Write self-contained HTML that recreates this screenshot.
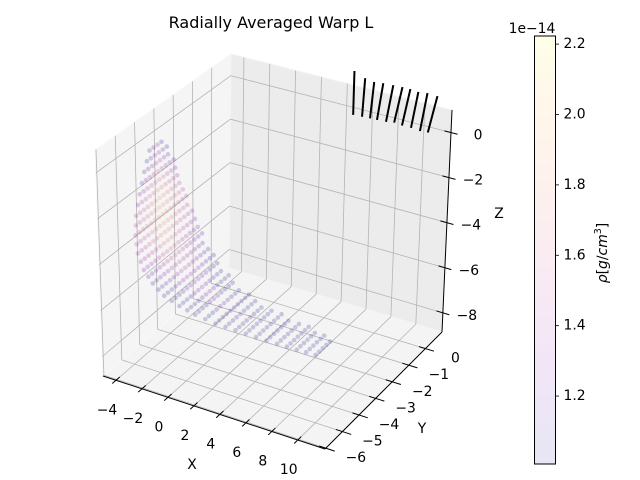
<!DOCTYPE html>
<html><head><meta charset="utf-8">
<style>
html,body{margin:0;padding:0;background:#fff;}
svg{display:block;font-family:"DejaVu Sans","Liberation Sans",sans-serif;}
</style></head>
<body>
<svg id="chart" width="640" height="480" viewBox="0 0 640 480" xmlns="http://www.w3.org/2000/svg">
  <defs>
    <linearGradient id="cbgrad" x1="0" y1="1" x2="0" y2="0"></linearGradient>
  </defs>
  <text x="271" y="28" font-size="16" text-anchor="middle" fill="#000">Radially Averaged Warp L</text>
  <g id="axes3d"></g>
  <g id="colorbar"></g>
</svg>
<script>
// ---- data ----
var xTicks = [-4, -2, 0, 2, 4, 6, 8, 10];
var yTicks = [-6, -5, -4, -3, -2, -1, 0];
var zTicks = [-8, -6, -4, -2, 0];
var cbTicks = [1.2, 1.4, 1.6, 1.8, 2.0, 2.2];
// scatter band rows (data coords)
var bandX = [-1.9, -1.9, -1.85, -1.8, -1.67, -1.4, -0.98, -0.4, 0.37, 1.3, 2.27, 3.6, 4.92, 6.4, 7.94, 9.3, 10.6];
var bandZ = [1.1, 0.35, -0.43, -1.2, -1.92, -2.6, -3.24, -3.75, -4.18, -4.55, -4.85, -5.1, -5.25, -5.32, -5.37, -5.45, -5.52];
var bandY = [-5, -5, -5, -5, -5, -5, -5, -5, -5, -5, -5, -5, -5, -5, -5, -5, -5];
var bandHalfWidth = [0.4, 0.7, 1.0, 1.25, 1.4, 1.5, 1.5, 1.45, 1.4, 1.25, 1.1, 0.95, 0.8, 0.75, 0.7, 0.6, 0.5];
var bandDensity = [1.3, 1.5, 1.7, 1.85, 1.9, 1.8, 1.65, 1.5, 1.4, 1.3, 1.25, 1.2, 1.15, 1.12, 1.1, 1.08, 1.05];
// quiver arrows (tail x,y,z and vector dx,dy,dz)
var quivX = [4.52, 5.36, 6.06, 6.76, 7.53, 8.24, 8.85, 9.47, 10.17, 10.94];
var quivY = [1.0, 1.0, 1.0, 1.0, 1.0, 1.0, 1.0, 1.0, 1.0, 1.0];
var quivZ = [1.64, 1.44, 1.37, 1.42, 1.44, 1.46, 1.46, 1.42, 1.47, 1.45];
var quivDX = [0, -0.15, -0.23, -0.39, -0.46, -0.54, -0.54, -0.46, -0.46, -0.62];
var quivDY = [0, 0, 0, 0, 0, 0, 0, 0, 0, 0];
var quivDZ = [-1.98, -1.76, -1.67, -1.71, -1.71, -1.67, -1.71, -1.67, -1.76, -1.71];

// ---- projection ----
var XR = [-5, 12.1], YR = [-6.05, 1.0], ZR = [-8.85, 1.0];
var L0 = [103, 376], F0 = [325, 449], R0 = [442, 332], B0 = [229, 268];
var L1 = [95, 150], F1 = [328, 215], R1 = [452, 110], B1 = [231, 54];
function bil(a, b, c, d, u, v) {
  return [
    (1-u)*(1-v)*a[0] + u*(1-v)*b[0] + u*v*c[0] + (1-u)*v*d[0],
    (1-u)*(1-v)*a[1] + u*(1-v)*b[1] + u*v*c[1] + (1-u)*v*d[1]
  ];
}
function projUVW(u, v, w) {
  var b = bil(L0, F0, R0, B0, u, v), t = bil(L1, F1, R1, B1, u, v);
  return [b[0] + (t[0]-b[0])*w, b[1] + (t[1]-b[1])*w];
}
function fx(x){return (x-XR[0])/(XR[1]-XR[0]);}
function fy(y){return (y-YR[0])/(YR[1]-YR[0]);}
function fz(z){return (z-ZR[0])/(ZR[1]-ZR[0]);}
function P(x, y, z){return projUVW(fx(x), fy(y), fz(z));}

var NS = "http://www.w3.org/2000/svg";
var ax = document.getElementById('axes3d');
function mk(tag, attrs, parent) {
  var e = document.createElementNS(NS, tag);
  for (var k in attrs) e.setAttribute(k, attrs[k]);
  (parent || ax).appendChild(e);
  return e;
}
function poly(pts){return pts.map(function(p){return p[0].toFixed(2)+','+p[1].toFixed(2);}).join(' ');}

// panes
var pBottom = mk('polygon', {points: poly([projUVW(0,0,0), projUVW(1,0,0), projUVW(1,1,0), projUVW(0,1,0)]), fill: '#f4f4f4', stroke: '#f8f8f8'});


var pLeft = mk('polygon', {points: poly([projUVW(0,0,0), projUVW(0,1,0), projUVW(0,1,1), projUVW(0,0,1)]), fill: '#f5f5f5', stroke: '#f8f8f8'});


var pBack = mk('polygon', {points: poly([projUVW(0,1,0), projUVW(1,1,0), projUVW(1,1,1), projUVW(0,1,1)]), fill: '#ececec', stroke: '#f4f4f4'});



// gridlines
var grid = mk('g', {stroke: '#b4b4b4', 'stroke-width': 0.8, fill: 'none'});


function gl(a, b, name) {
  var l = mk('line', {x1: a[0], y1: a[1], x2: b[0], y2: b[1]}, grid);
  
  
}
xTicks.forEach(function(t){
  var u = fx(t);
  gl(projUVW(u,0,0), projUVW(u,1,0), 'x-gridline-bottom');
  gl(projUVW(u,1,0), projUVW(u,1,1), 'x-gridline-back');
});
yTicks.forEach(function(t){
  var v = fy(t);
  gl(projUVW(0,v,0), projUVW(1,v,0), 'y-gridline-bottom');
  gl(projUVW(0,v,0), projUVW(0,v,1), 'y-gridline-left');
});
zTicks.forEach(function(t){
  var w = fz(t);
  gl(projUVW(0,0,w), projUVW(0,1,w), 'z-gridline-left');
  gl(projUVW(0,1,w), projUVW(1,1,w), 'z-gridline-back');
});

// axis lines
function axLine(a, b, name) {
  var l = mk('line', {x1: a[0], y1: a[1], x2: b[0], y2: b[1], stroke: '#000', 'stroke-width': 1});
  
  
}
axLine(projUVW(0,0,0), projUVW(1,0,0), 'x-axis-line');
axLine(projUVW(1,0,0), projUVW(1,1,0), 'y-axis-line');
axLine(projUVW(1,1,0), projUVW(1,1,1), 'z-axis-line');

// ticks + labels
function txt(x, y, s, name, anchor, size) {
  var t = mk('text', {x: x, y: y, 'font-size': size || 13.9, 'text-anchor': anchor || 'middle', 'dominant-baseline': 'middle', fill: '#000'});
  t.textContent = s;
  
  
  return t;
}
function lab(t){return (t < 0 ? '\u2212' + Math.abs(t) : String(t));}
xTicks.forEach(function(t){
  var u = fx(t), a = projUVW(u,0.03,0), b = projUVW(u,-0.03,0);
  axLine(a, b, 'x-tick');
  var p = projUVW(u,0,0);
  txt(p[0]-9, p[1]+30, lab(t), 'x-tick-label');
});
yTicks.forEach(function(t){
  var v = fy(t), a = projUVW(0.97,v,0), b = projUVW(1.04,v,0);
  axLine(a, b, 'y-tick');
  var p = projUVW(1,v,0);
  txt(p[0]+30, p[1]+10, lab(t), 'y-tick-label');
});
zTicks.forEach(function(t){
  var w = fz(t), a = projUVW(0.97,1,w), b = projUVW(1.03,1,w);
  axLine(a, b, 'z-tick');
  var p = projUVW(1,1,w);
  txt(p[0] + (t < 0 ? 24 : 27), p[1]+3, lab(t), 'z-tick-label');
});
txt(192, 465, 'X', 'x-axis-title');
txt(422, 429, 'Y', 'y-axis-title');
txt(499, 214, 'Z', 'z-axis-title');

// colormap (plasma)
var plasma = [[13,8,135],[84,2,163],[139,10,165],[185,50,137],[219,92,104],[244,136,73],[254,188,43],[240,249,33]];
function cmap(t) {
  t = Math.max(0, Math.min(1, t));
  var n = plasma.length - 1, i = Math.min(n-1, Math.floor(t*n)), f = t*n - i;
  var a = plasma[i], b = plasma[i+1];
  return 'rgb(' + Math.round(a[0]+(b[0]-a[0])*f) + ',' + Math.round(a[1]+(b[1]-a[1])*f) + ',' + Math.round(a[2]+(b[2]-a[2])*f) + ')';
}
var VMIN = 1.007, VMAX = 2.223;
function norm(d){return (d - VMIN)/(VMAX - VMIN);}

// scatter
var sc = mk('g', {});


function drawRow(x, y0, z, hw, dens) {
  for (var o = -hw; o <= hw + 1e-6; o += 0.21) {
    var p = P(x, y0 + o, z);
    var d = dens - Math.abs(o)/Math.max(hw, 0.01)*0.45;
    var c = mk('circle', {cx: p[0].toFixed(2), cy: p[1].toFixed(2), r: 2.3, fill: cmap(norm(d)), 'fill-opacity': 0.2}, sc);
    
    
  }
}
for (var i = 0; i < bandX.length; i++) {
  drawRow(bandX[i], bandY[i], bandZ[i], bandHalfWidth[i], bandDensity[i]);
  if (i < bandX.length - 1) {
    drawRow((bandX[i]+bandX[i+1])/2, (bandY[i]+bandY[i+1])/2, (bandZ[i]+bandZ[i+1])/2,
            (bandHalfWidth[i]+bandHalfWidth[i+1])/2, (bandDensity[i]+bandDensity[i+1])/2);
  }
}

// quiver
var qg = mk('g', {stroke: '#000', 'stroke-width': 2, 'stroke-linecap': 'butt'});


for (var q = 0; q < quivX.length; q++) {
  var a = P(quivX[q], quivY[q], quivZ[q]);
  var b = P(quivX[q]+quivDX[q], quivY[q]+quivDY[q], quivZ[q]+quivDZ[q]);
  var ln = mk('line', {x1: a[0], y1: a[1], x2: b[0], y2: b[1]}, qg);
  
  
}

// colorbar
var cb = document.getElementById('colorbar');
var grad = document.getElementById('cbgrad');
for (var s = 0; s <= 20; s++) {
  var st = document.createElementNS(NS, 'stop');
  st.setAttribute('offset', (s/20));
  st.setAttribute('stop-color', cmap(s/20));
  st.setAttribute('stop-opacity', 0.1);
  grad.appendChild(st);
}
var CBX = 534.5, CBW = 21, CBT = 36, CBB = 464;
function cbY(v){return CBB - (v - VMIN)/(VMAX - VMIN)*(CBB - CBT);}
var cbr = mk('rect', {x: CBX, y: CBT, width: CBW, height: CBB-CBT, fill: 'url(#cbgrad)', stroke: '#000', 'stroke-width': 1}, cb);


cbTicks.forEach(function(v){
  var y = cbY(v);
  var tk = mk('line', {x1: CBX+CBW, y1: y, x2: CBX+CBW+3.5, y2: y, stroke: '#000', 'stroke-width': 0.8}, cb);
  
  
  var t = mk('text', {x: CBX+CBW+8, y: y, 'font-size': 13.9, 'dominant-baseline': 'middle', fill: '#000'}, cb);
  t.textContent = v.toFixed(1);
  
  
});
var off = mk('text', {x: 532, y: 29, 'font-size': 13.9, 'text-anchor': 'middle', 'dominant-baseline': 'middle', fill: '#000'}, cb);
off.textContent = '1e\u221214';


var cl = mk('text', {x: 0, y: 0, 'font-size': 13.9, 'text-anchor': 'middle', 'dominant-baseline': 'middle', fill: '#000', transform: 'translate(603,253) rotate(-90)'}, cb);
cl.innerHTML = '<tspan font-style="italic">\u03c1</tspan>[<tspan font-style="italic">g</tspan>/<tspan font-style="italic">cm</tspan><tspan font-size="9.5" dy="-5">3</tspan><tspan dy="5">]</tspan>';


</script>
</body></html>
